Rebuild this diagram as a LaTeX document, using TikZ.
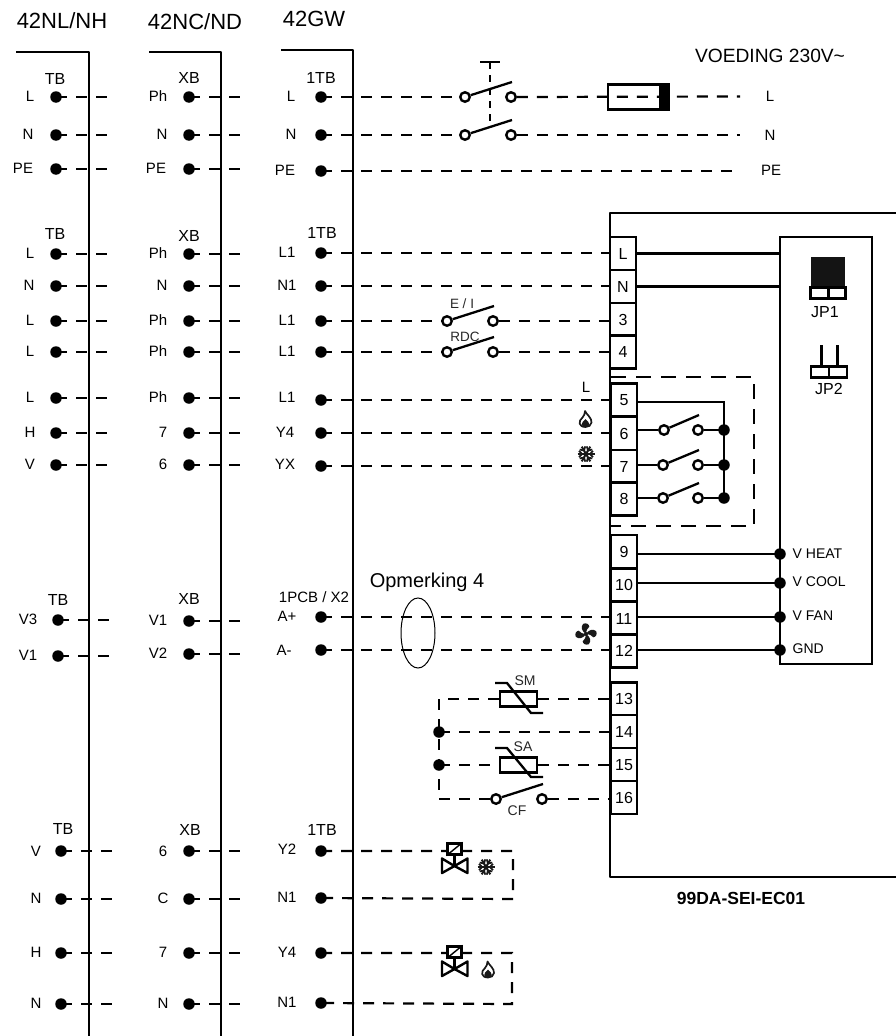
\documentclass[tikz,border=0pt]{standalone}
\usepackage{fontspec}
\setmainfont{Liberation Sans}
\usetikzlibrary{calc,shapes.geometric}
\definecolor{ink}{RGB}{0,0,0}
\definecolor{soft}{RGB}{25,25,25}
\tikzset{
  x=1pt,y=-1pt,
  wire/.style={line width=2.3pt,draw=ink},
  dashwire/.style={line width=2.2pt,draw=ink,dash pattern=on 11pt off 9pt},
  panel/.style={line width=2.3pt,draw=ink,line join=round},
  dotn/.style={circle,fill=ink,inner sep=0pt,minimum size=11.5pt},
  opn/.style={circle,draw=ink,fill=white,line width=2.4pt,inner sep=0pt,minimum size=9.5pt},
  term/.style={rectangle,draw=ink,fill=white,line width=2.6pt,inner sep=0pt,minimum width=26pt,minimum height=33pt,text height=11pt,text depth=0pt,align=center,font=\fontsize{16}{16}\selectfont},
  lab/.style={anchor=base,inner sep=0pt,font=\fontsize{16}{16}\selectfont,text=ink},
  smalllab/.style={anchor=base,inner sep=0pt,font=\fontsize{14}{14}\selectfont,text=ink!85},
  head/.style={anchor=base,inner sep=0pt,font=\fontsize{22}{22}\selectfont},
  thermbox/.style={rectangle,draw=ink,fill=white,line width=2.4pt,inner sep=0pt,minimum width=37pt,minimum height=15pt},
  snowicon/.pic={
    \foreach \a in {0,60,120}{
      \draw[soft,line width=2pt,rotate=\a] (-8.5,0) -- (8.5,0);
      \foreach \s in {-1,1}{
        \draw[soft,line width=1.7pt,rotate=\a] (\s*7,-3.2) -- (\s*4,0) -- (\s*7,3.2);
      }
    }
  },
  flameicon/.pic={
    \draw[soft,fill=white,line width=1.7pt,line join=round] (0,7.5) .. controls (-7,7.5) and (-7.5,1.5) .. (-3,-2) .. controls (-1.5,-3.5) and (-0.5,-6) .. (-0.5,-8.5) .. controls (1,-5) and (6.5,-1.5) .. (6,3) .. controls (5.7,6) and (3,7.5) .. (0,7.5) -- cycle;
    \fill[soft] (0,7.5) .. controls (-5,7.5) and (-5,3.5) .. (0,-0.5) .. controls (5,3.5) and (5,7.5) .. (0,7.5) -- cycle;
  },
  fanicon/.pic={
    \foreach \a in {10,100,190,280}{
      \fill[soft,rotate=\a] (0,0) .. controls (-3.5,-3) and (-4.5,-8) .. (-1,-10.5) .. controls (2,-11.5) and (5,-9) .. (4.5,-6.5) .. controls (3,-6) and (1,-4) .. (0,0) -- cycle;
    }
    \fill[soft] (0,0) circle (2);
  },
}
\newcommand{\swt}[4]{% name, x, y, delta x of contacts
  \node[opn] (#1a) at (#2,#3) {};
  \node[opn] (#1b) at (#2+#4,#3) {};
  \coordinate (#1e) at (#2+#4+1,#3-15);
  \draw[wire] (#1a) -- (#1e);
}
\begin{document}
\begin{tikzpicture}
\useasboundingbox (0,0) rectangle (896,1036);
% panels
\coordinate (p1a) at (16,52); \coordinate (p1b) at (89,52); \coordinate (p1c) at (89,1036);
\coordinate (p2a) at (149,52); \coordinate (p2b) at (221,52); \coordinate (p2c) at (221,1036);
\coordinate (p3a) at (281,50); \coordinate (p3b) at (353,50); \coordinate (p3c) at (353,1036);
\draw[panel] (p1a) -- (p1b) -- (p1c);
\draw[panel] (p2a) -- (p2b) -- (p2c);
\draw[panel] (p3a) -- (p3b) -- (p3c);
% headers
\node[head] (h1) at (62,28) {42NL/NH};
\node[head] (h2) at (195,29) {42NC/ND};
\node[head] (h3) at (314,27) {42GW};
\node[lab,font=\fontsize{19.2}{20}\selectfont] (h4) at (770,62) {VOEDING 230V\char`~};
% group titles
\foreach \n/\x/\y/\t in {t1/55/84/TB,t2/189/83/XB,t3/321/83/1TB,t4/55/239/TB,t5/189/241/XB,t6/322/238/1TB,t7/58/605/TB,t8/189/604/XB,t9/63/834/TB,t10/190/835/XB,t11/322/835/1TB}
  \node[lab] (\n) at (\x,\y) {\t};
\node[lab,font=\fontsize{15}{15}\selectfont] (t12) at (314,602) {1PCB / X2};
% left-hand stubs: columns 1 and 2
\foreach \n/\x/\y/\e in {
 a1/56/97/107,a2/56/135/107,a3/56/169/107,a4/56/254/107,a5/56/286/107,a6/56/321/107,a7/56/352/107,a8/56/398/107,a9/56/433/107,a10/56/465/107,a11/58/620/109,a12/58/656/109,a13/61/851/112,a14/61/899/112,a15/61/953/112,a16/61/1004/112,
 b1/189/97/240,b2/189/135/240,b3/189/169/240,b4/189/254/240,b5/189/286/240,b6/189/321/240,b7/189/352/240,b8/189/398/240,b9/189/433/240,b10/189/465/240,b11/189/621/240,b12/189/654/240,b13/189/851/240,b14/189/899/240,b15/189/953/240,b16/189/1004/240}{
  \node[dotn] (\n) at (\x,\y) {};
  \coordinate (\n e) at (\e,\y);
  \draw[dashwire] (\n.center) -- (\n e);
}
% row labels
\foreach \x/\y/\t in {
 30/97/L,28/135/N,23/169/PE,30/254/L,29/286/N,30/321/L,30/352/L,30/398/L,30/433/H,30/465/V,28/620/V3,28/656/V1,36/852/V,36/899/N,36/953/H,36/1004/N,
 158/97/Ph,162/135/N,156/169/PE,158/254/Ph,162/286/N,158/321/Ph,158/352/Ph,158/398/Ph,163/433/7,163/465/6,158/621/V1,158/654/V2,163/852/6,163/899/C,163/953/7,163/1004/N,
 291/97/L,291/135/N,285/171/PE,287/253/L1,287/286/N1,287/321/L1,287/352/L1,287/398/L1,285/433/Y4,285/465/YX,287/850/Y2,287/898/N1,287/953/Y4,287/1003/N1}
  \node[lab,font=\fontsize{15}{15}\selectfont] at (\x,\y+4.5) {\t};
\node[lab,font=\fontsize{15}{15}\selectfont] (ap) at (287,621) {A+};
\node[lab,font=\fontsize{15}{15}\selectfont] (am) at (284,655) {A-};
\node[lab,font=\fontsize{15}{15}\selectfont] (r1) at (770,101) {L};
\node[lab,font=\fontsize{15}{15}\selectfont] (r2) at (770,140) {N};
\node[lab,font=\fontsize{15}{15}\selectfont] (r3) at (771,175) {PE};
% column 3 dots
\foreach \n/\y in {c1/97,c2/135,c3/171,c4/253,c5/286,c6/321,c7/352,c8/400,c9/433,c10/466,c11/617,c12/650,c13/851,c14/898,c15/953,c16/1003}
  \node[dotn] (\n) at (321,\y) {};
% outer box and inner box
\coordinate (oa) at (896,213); \coordinate (ob) at (610,213); \coordinate (oc) at (610,877); \coordinate (od) at (896,877);
\draw[panel] (oa) -- (ob) -- (oc) -- (od);
\node[rectangle,draw=ink,line width=2.3pt,minimum width=92pt,minimum height=427pt,inner sep=0pt] (inner) at (826,450.5) {};
% switches in mains
\swt{s1}{465}{97}{46}
\swt{s2}{465}{135}{46}
\coordinate (gangtop) at (490,62);
\coordinate (gl) at (480,62); \coordinate (gr) at (500,62);
\coordinate (gbot) at (490,125);
\draw[wire] (gl) -- (gr);
\draw[line width=2.2pt,dash pattern=on 7pt off 6pt] (gangtop) -- (gbot);
\draw[dashwire] (c1.center) -- (s1a.west);
\draw[dashwire] (c2.center) -- (s2a.west);
\coordinate (f1) at (740,96.5); \coordinate (f2) at (740,135); \coordinate (f3) at (740,171);
\draw[dashwire] (s1b.east) -- (f1);
\draw[dashwire] (s2b.east) -- (f2);
\draw[dashwire] (c3.center) -- (f3);
% fuse
\node[rectangle,draw=ink,line width=2.3pt,minimum width=61pt,minimum height=25pt,inner sep=0pt] (fuse) at (638.5,97) {};
\node[rectangle,fill=ink,minimum width=10pt,minimum height=25pt,inner sep=0pt] (fuseb) at (664,97) {};
% terminals
\foreach \n/\y/\t in {tL/253.5/L,tN/286.5/N,t3x/319.5/3,t4x/352/4}
  \node[term] (\n) at (623,\y) {\t};
\foreach \n/\y/\t in {t5x/400/5,t6x/433.5/6,t7x/466.5/7,t8x/499/8}
  \node[term] (\n) at (624,\y) {\t};
\foreach \n/\y/\t in {t9x/551.5/9,t10x/585/10,t11x/618.5/11,t12x/651/12,t13x/699/13,t14x/731.5/14,t15x/764.5/15,t16x/797.5/16}
  \node[term] (\n) at (624,\y) {\t};
% group 2 wires
\draw[dashwire] (c4.center) -- (c4-|tL.west);
\draw[dashwire] (c5.center) -- (c5-|tN.west);
\swt{s3}{447}{321}{46}
\swt{s4}{447}{352}{46}
\draw[dashwire] (c6.center) -- (s3a.west);
\draw[dashwire] (c7.center) -- (s4a.west);
\draw[dashwire] (s3b.east) -- (s3b-|t3x.west);
\draw[dashwire] (s4b.east) -- (s4b-|t4x.west);
\node[smalllab,font=\fontsize{13.5}{14}\selectfont] (ei) at (462,308) {E / I};
\node[smalllab,font=\fontsize{13.5}{14}\selectfont] (rdc) at (465,341) {RDC};
% group 3 wires
\draw[dashwire] (c8.center) -- (c8-|t5x.west);
\draw[dashwire] (c9.center) -- (c9-|t6x.west);
\draw[dashwire] (c10.center) -- (c10-|t7x.west);
\node[lab,font=\fontsize{15}{15}\selectfont] (lL) at (586,392) {L};
\pic at (585.5,419.5) {flameicon};
\pic at (586,454) {snowicon};
% relay box
\coordinate (d1) at (611,377); \coordinate (d2) at (754,377); \coordinate (d3) at (754,526); \coordinate (d4) at (611,526);
\draw[line width=2.2pt,dash pattern=on 15pt off 10pt] (d1) -- (d2) -- (d3) -- (d4);
\node[dotn] (j1) at (724,430) {};
\node[dotn] (j2) at (724,465) {};
\node[dotn] (j3) at (724,498) {};
\coordinate (j0) at (724,402);
\draw[wire] (t5x.east|-j0) -- (j0) -- (j3.center);
\swt{r1s}{664}{430}{34}
\swt{r2s}{663}{465}{35}
\swt{r3s}{663}{498}{35}
\foreach \i/\t in {1/t6x,2/t7x,3/t8x}{
  \draw[wire] (\t.east|-r\i sa) -- (r\i sa.west);
  \draw[wire] (r\i sb.east) -- (j\i.center);
}
% signals
\foreach \n/\y/\t/\s/\b in {v1/554/V HEAT/t9x/558,v2/583/V COOL/t10x/586,v3/617/V FAN/t11x/620,v4/650/GND/t12x/653}{
  \node[dotn] (\n) at (780,\y) {};
  \draw[wire] (\s.east|-\n) -- (\n.center);
  \node[lab,anchor=base west,font=\fontsize{14}{14}\selectfont] at (792.5,\b) {\t};
}
% power to inner
\draw[wire] (tL.east) -- (tL-|inner.west);
\draw[wire] (tN.east) -- (tN-|inner.west);
% JP1
\node[rectangle,fill=ink!92,minimum width=34pt,minimum height=32pt,inner sep=0pt] (jp1k) at (828,273) {};
\node[rectangle,draw=ink,fill=white,line width=2.6pt,minimum width=17.5pt,minimum height=11pt,inner sep=0pt] (jp1a) at (819.5,293) {};
\node[rectangle,draw=ink,fill=white,line width=2.6pt,minimum width=17.5pt,minimum height=11pt,inner sep=0pt] (jp1b) at (837,293) {};
\node[lab] (jp1t) at (825,317) {JP1};
% JP2
\node[rectangle,draw=ink,fill=white,line width=2.6pt,minimum width=18pt,minimum height=11pt,inner sep=0pt] (jp2a) at (820,372) {};
\node[rectangle,draw=ink,fill=white,line width=2.6pt,minimum width=18pt,minimum height=11pt,inner sep=0pt] (jp2b) at (838,372) {};
\coordinate (p21) at (821,345); \coordinate (p22) at (837,345);
\draw[line width=3pt] (p21) -- (p21|-jp2a.north);
\draw[line width=3pt] (p22) -- (p22|-jp2b.north);
\node[lab] (jp2t) at (829,394) {JP2};
% group 4
\draw[dashwire] (c11.center) -- (c11-|t11x.west);
\draw[dashwire] (c12.center) -- (c12-|t12x.west);
\node[draw=ink,ellipse,line width=1pt,minimum width=34pt,minimum height=70pt,inner sep=0pt] (cable) at (418,633) {};
\node[lab,font=\fontsize{20}{20}\selectfont] (opm) at (427,587) {Opmerking 4};
\pic at (586,634) {fanicon};
% sensors
\node[thermbox] (sm) at (518.5,699) {};
\node[thermbox] (sa) at (518.5,765) {};
\coordinate (sm1) at (495,683); \coordinate (sm2) at (507,683); \coordinate (sm3) at (531,713); \coordinate (sm4) at (543,713);
\draw[wire] (sm1) -- (sm2) -- (sm3) -- (sm4);
\coordinate (sa1) at (495,748); \coordinate (sa2) at (507,748); \coordinate (sa3) at (531,777); \coordinate (sa4) at (543,777);
\draw[wire] (sa1) -- (sa2) -- (sa3) -- (sa4);
\node[smalllab] (smt) at (525,685) {SM};
\node[smalllab] (sat) at (523,751) {SA};
\node[dotn] (jm) at (439,732) {};
\node[dotn] (ja) at (439,765) {};
\coordinate (co1) at (439,699); \coordinate (co2) at (439,799);
\draw[dashwire] (sm.west) -- (co1) -- (co2);
\draw[dashwire] (sm.east) -- (sm.east-|t13x.west);
\draw[dashwire] (jm.center) -- (jm-|t14x.west);
\draw[dashwire] (ja.center) -- (sa.west);
\draw[dashwire] (sa.east) -- (sa.east-|t15x.west);
\swt{s5}{496}{799}{46}
\draw[dashwire] (co2) -- (s5a.west);
\draw[dashwire] (s5b.east) -- (s5b-|t16x.west);
\node[smalllab] (cf) at (517,815) {CF};
% valves
\coordinate (vr1) at (513,851); \coordinate (vr2) at (513,899);
\draw[dashwire] (c13.center) -- (vr1) -- (vr2) -- (c14.center);
\coordinate (vs1) at (512,953); \coordinate (vs2) at (512,1004);
\draw[dashwire] (c15.center) -- (vs1) -- (vs2) -- (c16.center);
\foreach \n/\y in {v5/849,v6/952}{
  \node[rectangle,draw=ink,fill=white,line width=2.3pt,minimum width=14pt,minimum height=11pt,inner sep=0pt] (\n) at (454.5,\y) {};
  \coordinate (\n c) at (454.5,\y+17);
  \draw[line width=1.4pt] (\n.south west) -- (\n.north east);
  \draw[wire] (\n.south) -- (\n c);
  \draw[line width=2.4pt,fill=white,line join=round] (442,\y+9.5) -- (\n c) -- (442,\y+24) -- cycle;
  \draw[line width=2.4pt,fill=white,line join=round] (467.5,\y+9.5) -- (\n c) -- (467.5,\y+24) -- cycle;
}
\pic at (486,867) {snowicon};
\pic at (488,970) {flameicon};
\node[lab,font=\bfseries\fontsize{17.5}{18}\selectfont] (model) at (741,904) {99DA-SEI-EC01};
\end{tikzpicture}
\end{document}
